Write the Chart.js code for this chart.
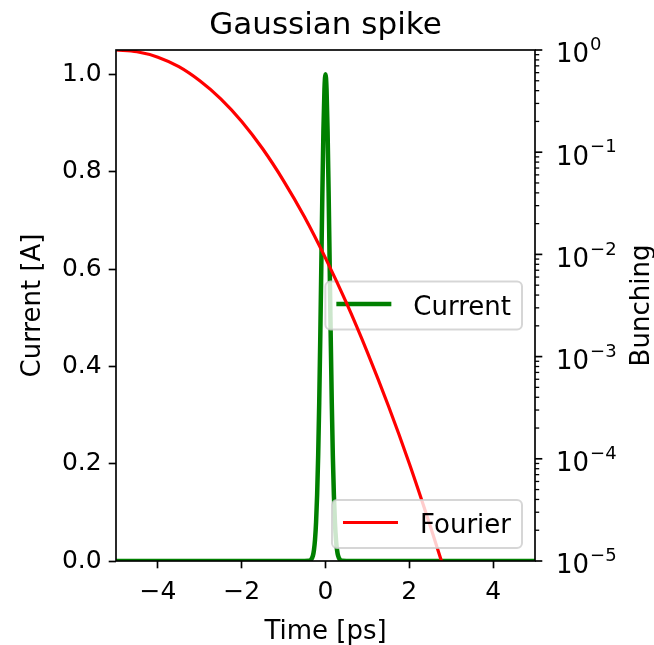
<!DOCTYPE html>
<html>
<head>
<meta charset="utf-8">
<script src="https://cdn.jsdelivr.net/npm/chart.js@4"></script>
<style>
html,body{margin:0;padding:0;background:#fff;}
#wrap{width:654px;height:645px;position:relative;}
</style>
</head>
<body>
<div id="wrap"><canvas id="c" width="654" height="645"></canvas></div>
<script>
// ---- data ----
const timeCurrent = [-5, -0.5, -0.4, -0.35, -0.3, -0.275, -0.25, -0.225, -0.2, -0.175, -0.15, -0.125, -0.1, -0.075, -0.05, -0.025, 0,
                     0.025, 0.05, 0.075, 0.1, 0.125, 0.15, 0.175, 0.2, 0.225, 0.25, 0.275, 0.3, 0.35, 0.4, 0.5, 5];
const currentA    = [0, 0, 0.0003, 0.0022, 0.0111, 0.0228, 0.0439, 0.0796, 0.1353, 0.2163, 0.3247, 0.4578, 0.6065, 0.7548, 0.8825, 0.9692, 1.0,
                     0.9692, 0.8825, 0.7548, 0.6065, 0.4578, 0.3247, 0.2163, 0.1353, 0.0796, 0.0439, 0.0228, 0.0111, 0.0022, 0.0003, 0, 0];
const timeFourier = [-5, -4.5, -4, -3.5, -3, -2.5, -2, -1.5, -1, -0.5, 0, 0.5, 1, 1.5, 2, 2.5, 3];
const bunching    = [1.0, 0.962, 0.851, 0.687, 0.500, 0.333, 0.200, 0.108, 0.0525, 0.0232, 0.0092, 0.00335, 0.00110, 3.3e-4, 9.0e-5, 2.2e-5, 5.0e-6];
const xTicks = [-4, -2, 0, 2, 4];
const currentTicks = [0, 0.2, 0.4, 0.6, 0.8, 1.0];
const bunchingDecades = [1, 1e-1, 1e-2, 1e-3, 1e-4, 1e-5];
const bunchingExponents = ['0', '\u22121', '\u22122', '\u22123', '\u22124', '\u22125'];
const titleText = 'Gaussian spike';
const xLabel = 'Time [ps]';
const yLabel = 'Current [A]';
const y2Label = 'Bunching';

const FONT = '"DejaVu Sans", sans-serif';
const FS = 26;
const GREEN = '#008000', RED = '#ff0000';
const SPINE = 1.67;

function fmtMinus(v){ return v < 0 ? '\u2212' + Math.abs(v) : String(v); }

function drawLegend(chart, label, color, lw, where){
  const ctx = chart.ctx, a = chart.chartArea;
  ctx.save();
  ctx.font = FS + 'px ' + FONT;
  const tw = ctx.measureText(label).width;
  const em = 27.5;
  const pad = 0.4 * em, hl = 2 * em, htp = 0.8 * em;
  const w = pad + hl + htp + tw + pad;
  const h = 2 * pad + 1.0 * FS;
  const right = a.right - 0.5 * FS;
  const left = right - w;
  let top;
  if (where === 'center') top = (a.top + a.bottom) / 2 - h / 2;
  else top = a.bottom - 0.5 * FS - h;
  const r = 5;
  ctx.beginPath();
  ctx.roundRect(left, top, w, h, r);
  ctx.fillStyle = 'rgba(255,255,255,0.8)';
  ctx.fill();
  ctx.lineWidth = 2;
  ctx.strokeStyle = 'rgba(204,204,204,0.8)';
  ctx.stroke();
  const cy = top + h / 2;
  ctx.beginPath();
  ctx.moveTo(left + pad, cy - 1.5);
  ctx.lineTo(left + pad + hl, cy - 1.5);
  ctx.strokeStyle = color;
  ctx.lineWidth = lw;
  ctx.lineCap = 'butt';
  ctx.stroke();
  ctx.fillStyle = '#000';
  ctx.textAlign = 'left';
  ctx.textBaseline = 'alphabetic';
  ctx.fillText(label, left + pad + hl + htp, cy + 0.36 * FS);
  ctx.restore();
}

const mplPlugin = {
  id: 'mpl',
  afterDatasetDraw(chart, args){
    if (chart.data.datasets[args.index].label === 'Current') {
      drawLegend(chart, 'Current', GREEN, 4.5, 'center');
    }
  },
  afterDatasetsDraw(chart){
    const ctx = chart.ctx, a = chart.chartArea;
    ctx.save();
    ctx.strokeStyle = '#000';
    ctx.lineWidth = SPINE;
    ctx.strokeRect(a.left, a.top, a.right - a.left, a.bottom - a.top);
    ctx.restore();
    drawLegend(chart, 'Fourier', RED, 3.2, 'lower');
  },
  afterDraw(chart){
    const ctx = chart.ctx, a = chart.chartArea;
    const s = chart.scales.y1;
    ctx.save();
    ctx.strokeStyle = '#000';
    ctx.lineWidth = SPINE;
    for (const d of bunchingDecades) {
      const py = s.getPixelForValue(d);
      ctx.beginPath(); ctx.moveTo(a.right, py); ctx.lineTo(a.right + 7.3, py); ctx.stroke();
      if (d < 1) {
        for (let m = 2; m <= 9; m++) {
          const my = s.getPixelForValue(d * m);
          ctx.lineWidth = 1.3;
          ctx.beginPath(); ctx.moveTo(a.right, my); ctx.lineTo(a.right + 4.2, my); ctx.stroke();
          ctx.lineWidth = SPINE;
        }
      }
    }
    ctx.fillStyle = '#000';
    ctx.textAlign = 'left';
    ctx.textBaseline = 'alphabetic';
    bunchingDecades.forEach((d, i) => {
      const py = s.getPixelForValue(d);
      const x0 = a.right + 21;
      const base = py + 0.36 * FS + 3;
      ctx.font = FS + 'px ' + FONT;
      ctx.fillText('10', x0, base);
      const w10 = ctx.measureText('10').width;
      ctx.font = Math.round(FS * 0.7) + 'px ' + FONT;
      ctx.fillText(bunchingExponents[i], x0 + w10 + 1, base - 0.47 * FS);
    });
    ctx.font = '31px ' + FONT;
    ctx.textAlign = 'center';
    ctx.fillText(titleText, (a.left + a.right) / 2, 34);
    ctx.font = FS + 'px ' + FONT;
    ctx.fillText(xLabel, (a.left + a.right) / 2, 639);
    const cy = (a.top + a.bottom) / 2;
    ctx.save();
    ctx.translate(40, cy); ctx.rotate(-Math.PI / 2);
    ctx.fillText(yLabel, 0, 0);
    ctx.restore();
    ctx.save();
    ctx.translate(649, cy); ctx.rotate(-Math.PI / 2);
    ctx.fillText(y2Label, 0, 0);
    ctx.restore();
    ctx.restore();
  }
};

const tickFont = { family: FONT, size: 25 };
const gridOpts = { drawOnChartArea: false, drawTicks: true, tickLength: 7.3, tickWidth: SPINE, tickColor: '#000', color: '#000' };

new Chart(document.getElementById('c'), {
  type: 'line',
  data: {
    datasets: [
      { label: 'Fourier', yAxisID: 'y1', order: 0,
        data: timeFourier.map((x, i) => ({ x: x, y: bunching[i] })),
        borderColor: RED, borderWidth: 3.2, pointRadius: 0, fill: false,
        cubicInterpolationMode: 'monotone', clip: 0 },
      { label: 'Current', yAxisID: 'y', order: 1,
        data: timeCurrent.map((x, i) => ({ x: x, y: currentA[i] })),
        borderColor: GREEN, borderWidth: 4.5, pointRadius: 0, fill: false,
        cubicInterpolationMode: 'monotone', borderJoinStyle: 'round', clip: 0 }
    ]
  },
  options: {
    responsive: false,
    animation: false,
    devicePixelRatio: 1,
    layout: { padding: { top: 50, left: 0, right: 0, bottom: 0 } },
    plugins: { legend: { display: false }, tooltip: { enabled: false }, title: { display: false } },
    scales: {
      x: {
        type: 'linear', min: -5, max: 5,
        afterBuildTicks: s => { s.ticks = xTicks.map(v => ({ value: v })); },
        afterFit: s => { s.height = 84; },
        ticks: { font: tickFont, color: '#000', padding: 9, maxRotation: 0, autoSkip: false,
                 callback: v => fmtMinus(v) },
        grid: gridOpts,
        border: { display: false }
      },
      y: {
        type: 'linear', position: 'left', min: 0, max: 1.05,
        afterBuildTicks: s => { s.ticks = currentTicks.map(v => ({ value: v })); },
        afterFit: s => { s.width = 116; },
        ticks: { font: tickFont, color: '#000', padding: 7, autoSkip: false,
                 callback: v => v.toFixed(1) },
        grid: gridOpts,
        border: { display: false }
      },
      y1: {
        type: 'logarithmic', position: 'right', min: 1e-5, max: 1,
        afterFit: s => { s.width = 119; },
        ticks: { display: false },
        grid: { display: false },
        border: { display: false }
      }
    }
  },
  plugins: [mplPlugin]
});
</script>
</body>
</html>
